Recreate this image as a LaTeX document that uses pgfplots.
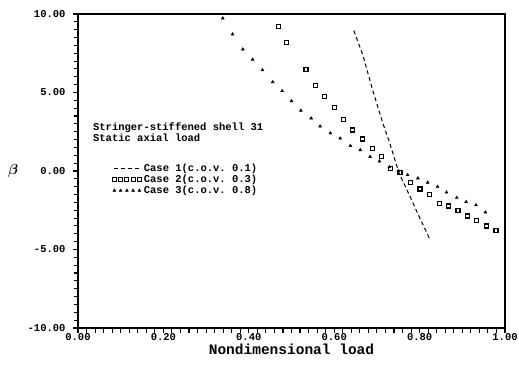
\documentclass[border=0pt]{standalone}
\usepackage{fontspec}
\setmainfont{Liberation Serif}
\setmonofont{Liberation Mono}
\usepackage{bm}
\usepackage{pgfplots}
\pgfplotsset{compat=1.18}

\begin{document}
\begin{tikzpicture}
\useasboundingbox (-78pt,-41pt) rectangle (441pt,328pt);
\begin{axis}[
  scale only axis,
  width=427pt, height=314pt,
  xmin=0, xmax=1, ymin=-10, ymax=10,
  xtick={0,0.2,0.4,0.6,0.8,1},
  ytick={-10,-5,0,5,10},
  minor x tick num=9,
  minor y tick num=9,
  xtick pos=bottom, ytick pos=left,
  tick align=outside,
  major tick length=5pt, minor tick length=4.5pt,
  every tick/.style={line width=1.1pt, black},
  axis line style={line width=1.5pt, draw=black},
  xticklabel={\pgfmathprintnumber[assume math mode=true, fixed, fixed zerofill, precision=2]{\tick}},
  yticklabel={\pgfmathprintnumber[assume math mode=true, fixed, fixed zerofill, precision=2]{\tick}},
  every tick label/.append style={font=\ttfamily\bfseries\fontsize{10.5}{10.5}\selectfont},
  xticklabel style={yshift=3pt},
  yticklabel style={xshift=-4pt},
  xlabel={\ttfamily\bfseries\fontsize{14.5}{14.5}\selectfont Nondimensional load},
  xlabel style={yshift=4pt},
  ylabel={$\bm{\beta}$},
  ylabel style={at={(axis description cs:-0.152,0.5)}, rotate=-90, anchor=center,
    font=\fontsize{15}{15}\selectfont},
  legend style={draw=none, fill=none, at={(rel axis cs:0.08,0.53)}, anchor=north west,
    font=\ttfamily\bfseries\fontsize{10.5}{10.5}\selectfont, row sep=-2pt,
    inner sep=0pt},
  legend cell align=left,
]

% frame edges on top and right
\draw[line width=1.5pt, draw=black] (axis cs:0,10) -- (axis cs:1,10) -- (axis cs:1,-10);

% Case 1: dashed curve
\addplot[black, line width=1pt, dash pattern=on 4pt off 3pt,
  legend image code/.code={\draw[line width=1pt, dash pattern=on 4pt off 3pt] (0cm,0cm) -- (0.95cm,0cm);}]
  coordinates {
  (0.646,8.94) (0.667,7.39) (0.690,5.16) (0.714,3.04) (0.729,1.87)
  (0.752,-0.15) (0.776,-1.53) (0.799,-2.91) (0.823,-4.29)
};
\addlegendentry{Case 1(c.o.v. 0.1)}

% Case 2: open squares
\addplot[only marks, black, mark=square, mark size=2pt, line width=1.2pt,
  legend image code/.code={\draw[only marks] plot coordinates {(0cm,0cm) (0.22cm,0cm) (0.44cm,0cm) (0.66cm,0cm) (0.88cm,0cm)};}]
  coordinates {
  (0.469,9.19) (0.489,8.17) (0.534,6.48) (0.556,5.43) (0.578,4.73)
  (0.600,4.03) (0.621,3.29) (0.643,2.61) (0.667,2.04) (0.689,1.45)
  (0.710,0.91) (0.731,0.17) (0.754,-0.11) (0.778,-0.73) (0.801,-1.15)
  (0.824,-1.48) (0.846,-2.06) (0.868,-2.23) (0.890,-2.53) (0.912,-2.87)
  (0.934,-3.17) (0.956,-3.50) (0.979,-3.80)
};
\addlegendentry{Case 2(c.o.v. 0.3)}

% Case 3: small filled triangles
\addplot[only marks, black, mark=triangle*, mark size=1.7pt,
  legend image code/.code={\draw[only marks] plot coordinates {(0cm,0cm) (0.22cm,0cm) (0.44cm,0cm) (0.66cm,0cm) (0.88cm,0cm)};}]
  coordinates {
  (0.339,9.73) (0.362,8.71) (0.386,7.75) (0.409,7.10) (0.432,6.43)
  (0.456,5.67) (0.478,5.10) (0.500,4.46) (0.522,3.85) (0.546,3.36)
  (0.567,2.85) (0.591,2.41) (0.614,2.08) (0.638,1.61) (0.661,1.34)
  (0.684,0.91) (0.706,0.62) (0.729,0.25) (0.750,0.00) (0.772,-0.25)
  (0.796,-0.46) (0.819,-0.73) (0.842,-1.00) (0.863,-1.36) (0.887,-1.70)
  (0.909,-1.96) (0.932,-2.17) (0.954,-2.63)
};
\addlegendentry{Case 3(c.o.v. 0.8)}

\node[anchor=north west, align=left, inner sep=0pt,
  font=\ttfamily\bfseries\fontsize{10.5}{11.5}\selectfont]
  at (axis cs:0.035,3.1) {Stringer-stiffened shell 31\\Static axial load};
\end{axis}
\end{tikzpicture}
\end{document}
